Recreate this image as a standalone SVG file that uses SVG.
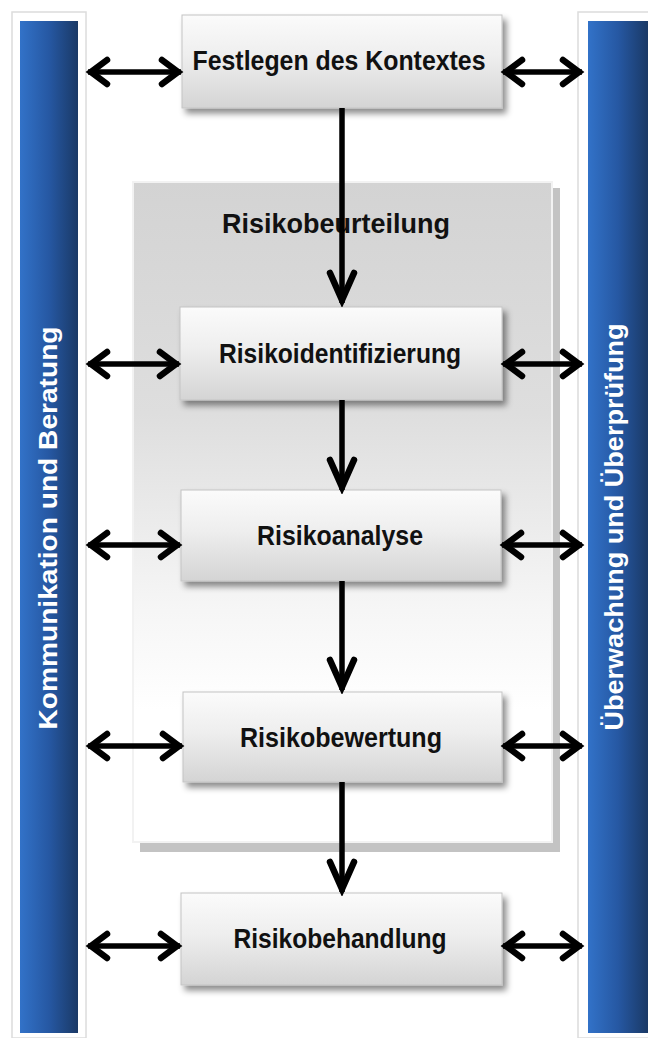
<svg xmlns="http://www.w3.org/2000/svg" width="648" height="1038" viewBox="0 0 648 1038">
<style>
.t{font-family:"Liberation Sans",Arial,sans-serif;font-weight:bold;fill:#111;text-anchor:middle}
.v{font-family:"Liberation Sans",Arial,sans-serif;font-weight:bold;fill:#fff;text-anchor:middle}
.box{fill:url(#gBox);stroke:#c4c4c4;stroke-width:1;filter:url(#sh)}
.frame{fill:#fff;stroke:#dcdcdc;stroke-width:1.5}
.c{stroke:#000;stroke-width:5.5;fill:none}
.h{marker-start:url(#mh);marker-end:url(#mh)}
.d{marker-end:url(#mv)}
</style>
<defs>
<linearGradient id="gBox" x1="0" y1="0" x2="0" y2="1">
<stop offset="0" stop-color="#fbfbfb"/>
<stop offset="0.45" stop-color="#eeeeee"/>
<stop offset="1" stop-color="#d4d4d4"/>
</linearGradient>
<linearGradient id="gCont" x1="0" y1="0" x2="0" y2="1">
<stop offset="0" stop-color="#d3d3d3"/>
<stop offset="0.35" stop-color="#dedede"/>
<stop offset="0.65" stop-color="#f6f6f6"/>
<stop offset="0.8" stop-color="#ffffff"/>
<stop offset="1" stop-color="#ffffff"/>
</linearGradient>
<linearGradient id="gBar" x1="0" y1="0" x2="1" y2="0">
<stop offset="0" stop-color="#3272c8"/>
<stop offset="0.5" stop-color="#2658a3"/>
<stop offset="1" stop-color="#1a3966"/>
</linearGradient>
<filter id="sh" x="-10%" y="-10%" width="130%" height="140%">
<feDropShadow dx="4" dy="5" stdDeviation="3" flood-color="#000" flood-opacity="0.45"/>
</filter>
<marker id="mh" viewBox="-26 -16 30 32" refX="0" refY="0" markerUnits="userSpaceOnUse" markerWidth="30" markerHeight="32" orient="auto-start-reverse">
<path d="M-19,-12 L-3,0 L-19,12" fill="none" stroke="#000" stroke-width="6.5" stroke-linecap="round" stroke-linejoin="miter"/>
</marker>
<marker id="mv" viewBox="-36 -18 40 36" refX="0" refY="0" markerUnits="userSpaceOnUse" markerWidth="40" markerHeight="36" orient="auto">
<path d="M-30,-12 L-3,0 L-30,12" fill="none" stroke="#000" stroke-width="6.5" stroke-linecap="round" stroke-linejoin="miter"/>
</marker>
</defs>
<rect width="648" height="1038" fill="#fff"/>

<g id="bar-left">
<rect class="frame" x="12" y="12" width="74" height="1026"/>
<rect x="20" y="21" width="58" height="1012" fill="url(#gBar)"/>
<text class="v" transform="translate(57,528) rotate(-90)" x="0" y="0" font-size="26" textLength="403" lengthAdjust="spacingAndGlyphs">Kommunikation und Beratung</text>
</g>

<g id="bar-right">
<rect class="frame" x="578" y="12" width="74" height="1026"/>
<rect x="588" y="21" width="60" height="1012" fill="url(#gBar)"/>
<text class="v" transform="translate(623,527) rotate(-90)" x="0" y="0" font-size="25" textLength="407" lengthAdjust="spacingAndGlyphs">Überwachung und Überprüfung</text>
</g>

<g id="risikobeurteilung">
<rect x="140" y="188" width="420" height="664" fill="#b4b4b4" opacity="0.8"/>
<rect x="133" y="182" width="419" height="660" fill="url(#gCont)" stroke="#f2f2f2" stroke-width="2"/>
<text class="t" x="336" y="233" font-size="28" textLength="228" lengthAdjust="spacingAndGlyphs">Risikobeurteilung</text>
</g>

<g id="festlegen">
<rect class="box" x="182" y="15" width="320" height="93"/>
<text class="t" x="339" y="70" font-size="28" textLength="293" lengthAdjust="spacingAndGlyphs">Festlegen des Kontextes</text>
</g>

<g id="identifizierung">
<rect class="box" x="180" y="307" width="322" height="93"/>
<text class="t" x="340" y="363" font-size="28" textLength="242" lengthAdjust="spacingAndGlyphs">Risikoidentifizierung</text>
</g>

<g id="analyse">
<rect class="box" x="181" y="490" width="320" height="91"/>
<text class="t" x="340" y="545" font-size="28" textLength="166" lengthAdjust="spacingAndGlyphs">Risikoanalyse</text>
</g>

<g id="bewertung">
<rect class="box" x="183" y="692" width="319" height="90"/>
<text class="t" x="341" y="747" font-size="28" textLength="202" lengthAdjust="spacingAndGlyphs">Risikobewertung</text>
</g>

<g id="behandlung">
<rect class="box" x="181" y="893" width="321" height="92"/>
<text class="t" x="340" y="948" font-size="28" textLength="213" lengthAdjust="spacingAndGlyphs">Risikobehandlung</text>
</g>

<g id="connectors">
<line class="c d" x1="342" y1="108" x2="342" y2="303"/>
<line class="c d" x1="342" y1="400" x2="342" y2="490"/>
<line class="c d" x1="342" y1="581" x2="342" y2="690"/>
<line class="c d" x1="342" y1="782" x2="342" y2="892"/>

<line class="c h" x1="88" y1="72" x2="181" y2="72"/>
<line class="c h" x1="503" y1="72" x2="582" y2="72"/>
<line class="c h" x1="88" y1="364" x2="179" y2="364"/>
<line class="c h" x1="503" y1="364" x2="582" y2="364"/>
<line class="c h" x1="88" y1="545" x2="180" y2="545"/>
<line class="c h" x1="502" y1="545" x2="582" y2="545"/>
<line class="c h" x1="88" y1="746" x2="182" y2="746"/>
<line class="c h" x1="503" y1="746" x2="582" y2="746"/>
<line class="c h" x1="88" y1="946" x2="180" y2="946"/>
<line class="c h" x1="503" y1="946" x2="582" y2="946"/>
</g>
</svg>
